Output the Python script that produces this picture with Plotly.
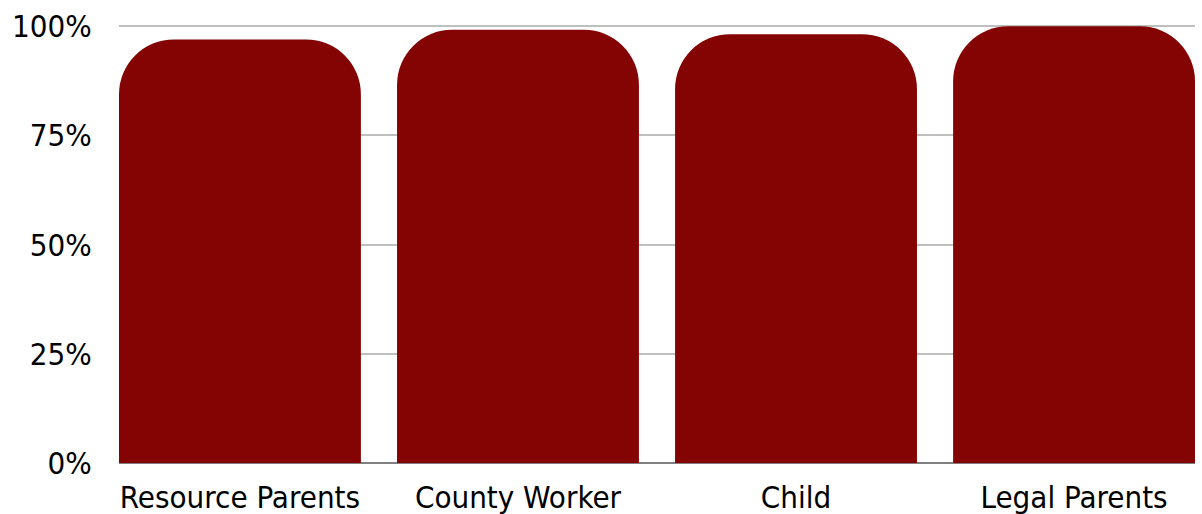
import plotly.graph_objects as go

categories = ["Resource Parents", "County Worker", "Child", "Legal Parents"]
values = [97, 99.2, 98.2, 100]
y_ticks = [0, 25, 50, 75, 100]
y_tick_labels = ["0%", "25%", "50%", "75%", "100%"]

FONT = "DejaVu Sans Condensed, Tahoma, Liberation Sans, sans-serif"

fig = go.Figure(
    go.Bar(
        x=list(range(len(categories))),
        y=values,
        marker=dict(color="#840404", cornerradius=55, line=dict(width=0)),
        width=0.87,
        hoverinfo="skip",
        cliponaxis=False,
    )
)

fig.update_layout(
    width=1202,
    height=514,
    margin=dict(l=119, r=7, t=25, b=50.5, autoexpand=False),
    paper_bgcolor="white",
    plot_bgcolor="white",
    font=dict(family=FONT, size=31, color="black"),
    showlegend=False,
)

fig.update_xaxes(
    range=[-0.435, len(categories) - 1 + 0.435],
    tickvals=list(range(len(categories))),
    ticktext=categories,
    showgrid=False,
    showline=False,
    zeroline=False,
    ticks="outside",
    ticklen=7,
    tickcolor="rgba(0,0,0,0)",
    automargin=False,
)

fig.update_yaxes(
    range=[0, 100.3],
    tickvals=y_ticks,
    ticktext=y_tick_labels,
    showgrid=True,
    gridcolor="#BFBFBF",
    gridwidth=2,
    zeroline=True,
    zerolinecolor="#808080",
    zerolinewidth=2,
    showline=False,
    ticks="outside",
    ticklen=20,
    tickcolor="rgba(0,0,0,0)",
    automargin=False,
)

fig.write_html(
    "out.html",
    config={"displayModeBar": False, "staticPlot": True},
    post_script="document.body.style.margin='0';document.body.style.overflow='hidden';",
)
